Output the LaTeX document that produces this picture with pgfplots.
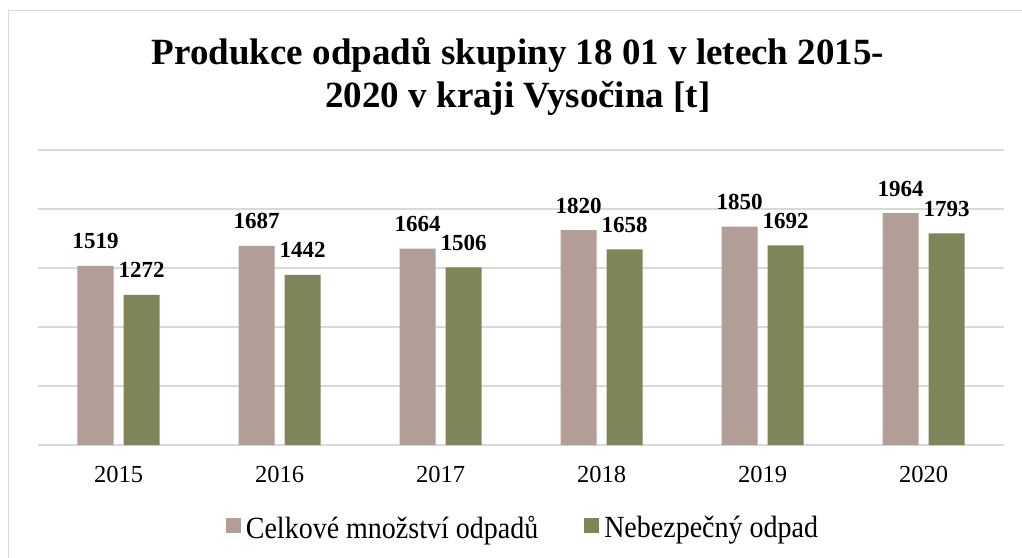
\documentclass[border=0pt]{standalone}
\usepackage{pgfplots}
\pgfplotsset{compat=1.18}
\usepackage{fontspec}
\setmainfont{Liberation Serif}
\definecolor{pinkc}{HTML}{B29E96}
\definecolor{greenc}{HTML}{7F8559}
\definecolor{gridc}{HTML}{D9D9D9}
\begin{document}
\begin{tikzpicture}[x=1pt,y=1pt]
\useasboundingbox (0,0) rectangle (1022,557);
\draw[gridc, line width=1.2pt] (8.5,-20) -- (8.5,546.5) -- (1040,546.5);
\node[anchor=base, font=\fontsize{37}{44}\selectfont\bfseries, inner sep=0pt] at (518,492) {Produkce odpadů skupiny 18 01 v letech 2015-};
\node[anchor=base, font=\fontsize{37}{44}\selectfont\bfseries, inner sep=0pt] at (518,449) {2020 v kraji Vysočina [t]};
\begin{axis}[
  at={(38pt,112pt)}, anchor=south west,
  scale only axis, width=966pt, height=295pt,
  xmin=-0.5, xmax=5.5, ymin=0, ymax=2500,
  ytick={0,500,...,2500}, yticklabels={},
  xtick={0,1,2,3,4,5}, xticklabels={2015,2016,2017,2018,2019,2020},
  major tick length=0pt,
  ymajorgrids, grid style={gridc, line width=1.2pt},
  axis line style={draw=none},
  clip=false,
  ybar=10pt, bar width=36pt,
  nodes near coords,
  nodes near coords style={font=\fontsize{23}{23}\selectfont\bfseries, anchor=base, yshift=17pt, inner sep=0pt},
  /pgf/number format/1000 sep={},
  /pgf/number format/assume math mode=true,
  xticklabel style={font=\fontsize{24.5}{24}\selectfont, anchor=base, yshift=-37pt, inner sep=0pt},
  legend columns=2,
  legend style={at={(0.501,-0.28)}, anchor=center, draw=none, fill=none,
    font=\fontsize{28}{28}\selectfont, nodes={inner sep=0pt},
    /tikz/every odd column/.append style={column sep=5pt},
    /tikz/every even column/.append style={column sep=46pt}},
  sq/.style={legend image code/.code={\fill[##1,draw=none] (0pt,-5pt) rectangle (15pt,10pt);}},
]
\addplot[fill=pinkc, draw=none, sq] coordinates {(0,1519) (1,1687) (2,1664) (3,1820) (4,1850) (5,1964)};
\addplot[fill=greenc, draw=none, sq] coordinates {(0,1272) (1,1442) (2,1506) (3,1658) (4,1692) (5,1793)};
\legend{\scalebox{1}[1.1]{Celkové množství odpadů}, \scalebox{1}[1.1]{Nebezpečný odpad}}
\end{axis}
\end{tikzpicture}
\end{document}
